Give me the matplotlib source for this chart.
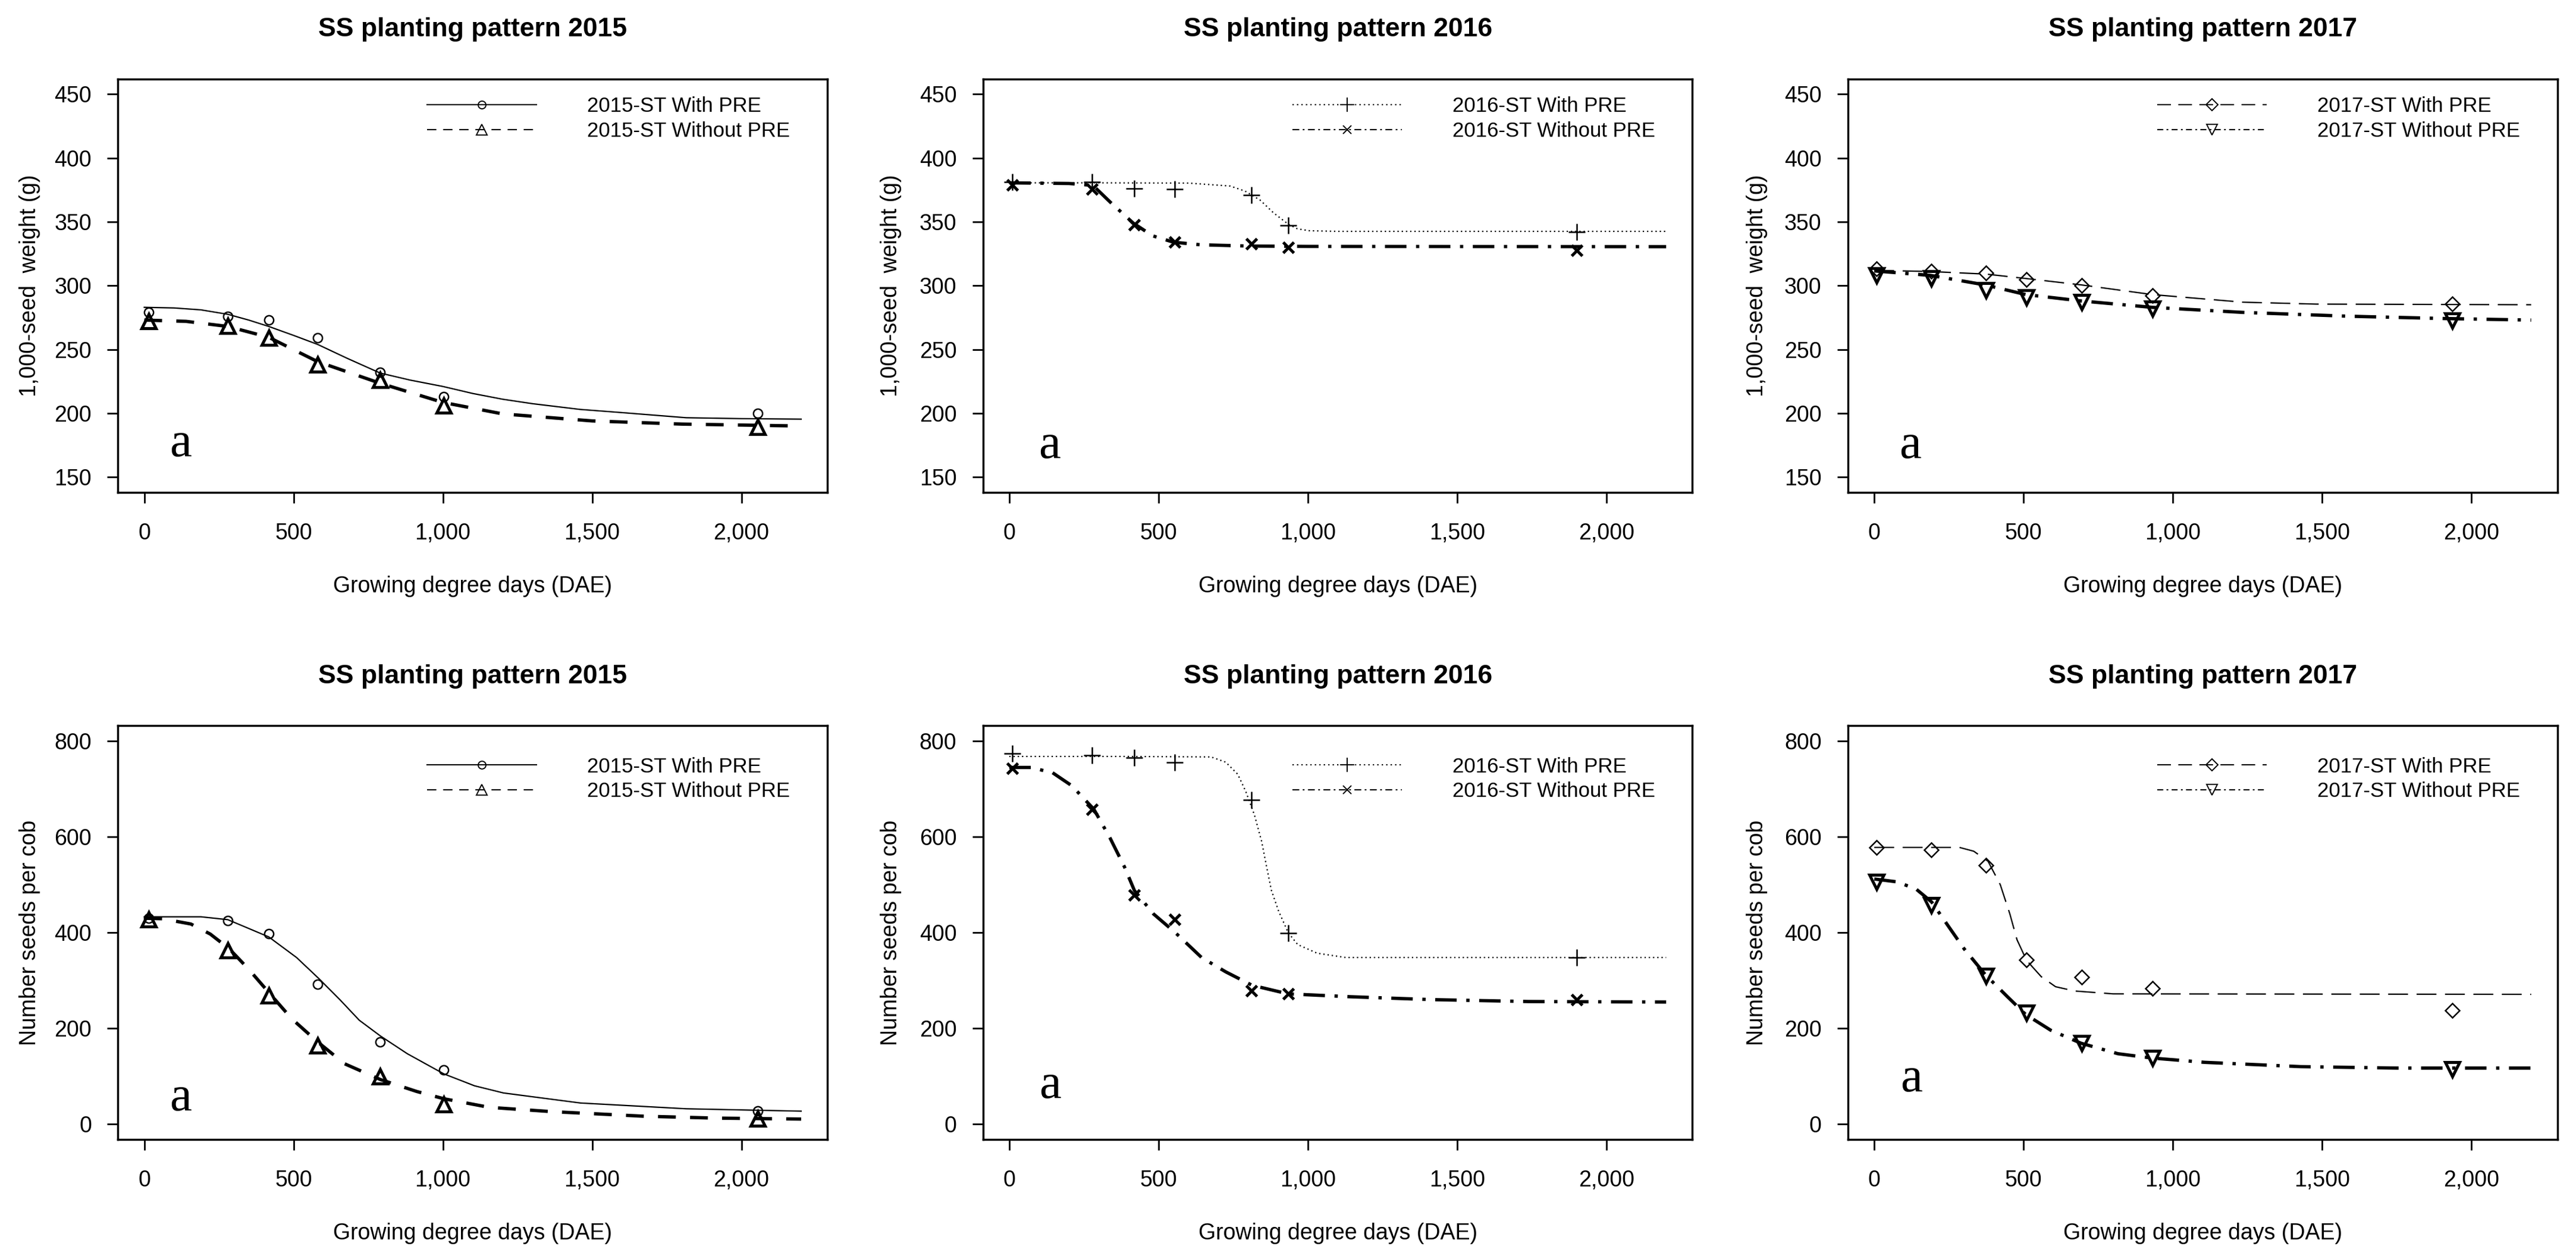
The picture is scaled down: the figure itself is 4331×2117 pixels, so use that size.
import matplotlib
matplotlib.use("Agg")
import matplotlib.pyplot as plt
from matplotlib.lines import Line2D

plt.rcParams["font.family"] = ["Liberation Sans", "DejaVu Sans"]

# ---- observed points (growing degree days) ----
gdd_2015 = [15, 280, 417, 580, 790, 1002, 2055]
gdd_2016 = [10, 278, 418, 555, 810, 935, 1900]
gdd_2017 = [8, 190, 375, 510, 695, 932, 1935]

# 1,000-seed weight (g)
wt_2015_with = [279, 276, 273, 259, 232, 213, 200]
wt_2015_without = [272, 268.5, 259, 238, 226, 206, 189]
wt_2016_with = [381, 381, 376, 375.5, 371, 347, 342]
wt_2016_without = [379, 375.5, 347.5, 334, 332.5, 330, 327.5]
wt_2017_with = [313, 311.5, 310, 305, 300, 292, 285.5]
wt_2017_without = [308, 305.5, 296.5, 291, 287, 282, 272.5]

# number of seeds per cob
sd_2015_with = [430, 425, 398, 292, 172, 113, 27]
sd_2015_without = [427, 363, 269, 164, 99, 41, 11]
sd_2016_with = [774, 770, 765, 756, 677, 399, 348]
sd_2016_without = [743, 658, 479, 427, 278, 272, 260]
sd_2017_with = [578, 573, 541, 343, 307, 283, 237]
sd_2017_without = [506, 457, 310, 232, 169, 138, 114]

# ---- fitted curves ----
cwt_2015_with_x = [0, 100, 190, 280, 350, 417, 500, 580, 680, 790, 890, 1000, 1100, 1200, 1300, 1460, 1600, 1815, 2000, 2200]
cwt_2015_with_y = [283, 282.5, 281, 277.5, 273, 268, 261, 254, 243, 231.5, 226, 221, 215.5, 211, 207.5, 203, 200.5, 196.5, 195.8, 195.4]
cwt_2015_without_x = [0, 140, 280, 417, 580, 790, 1000, 1200, 1500, 1800, 2200]
cwt_2015_without_y = [273, 272, 268, 259.5, 240.5, 223.5, 208.5, 199.5, 194, 191.5, 190]

cwt_2016_with_x = [0, 300, 600, 740, 790, 840, 885, 935, 965, 1005, 1100, 2200]
cwt_2016_with_y = [380.5, 380.5, 380.3, 378, 374, 367, 357, 348, 344.5, 343, 342.5, 342.5]
cwt_2016_without_x = [0, 200, 280, 340, 415, 480, 550, 640, 800, 1000, 2200]
cwt_2016_without_y = [380.5, 380, 378.5, 365, 349, 339, 334, 332, 331, 330.7, 330.5]

cwt_2017_with_x = [0, 190, 375, 510, 695, 930, 1235, 1480, 2200]
cwt_2017_with_y = [312, 311, 309, 305.5, 300.5, 293, 287, 285.5, 285]
cwt_2017_without_x = [0, 188, 372, 507, 692, 929, 1235, 1589, 1911, 2200]
cwt_2017_without_y = [311.5, 308, 300.5, 293, 288, 283, 279, 276, 274.2, 273]

csd_2015_with_x = [0, 190, 280, 417, 510, 583, 655, 720, 791, 881, 1003, 1106, 1203, 1461, 1638, 1815, 2200]
csd_2015_with_y = [433, 433, 427, 391, 348, 305, 260, 217, 184, 147, 105, 80, 65, 44, 38, 32, 27]
csd_2015_without_x = [0, 60, 156, 221, 285, 349, 417, 494, 580, 671, 791, 913, 1003, 1155, 1364, 1670, 1911, 2200]
csd_2015_without_y = [430, 429, 418, 397, 366, 324, 275, 220, 172, 126, 93, 68, 53, 35, 26, 16.5, 12.5, 10.5]

csd_2016_with_x = [0, 400, 676, 725, 765, 792, 821, 845, 862, 878, 902, 934, 966, 1031, 1127, 2200]
csd_2016_with_y = [768, 768, 767, 756, 731, 695, 646, 591, 537, 488, 445, 400, 375, 357, 348, 348]
csd_2016_without_x = [0, 72, 145, 209, 283, 338, 386, 419, 483, 556, 644, 725, 813, 934, 1143, 1417, 1739, 2200]
csd_2016_without_y = [745, 745, 734, 707, 658, 597, 537, 488, 439, 400, 348, 318, 290, 272, 266, 260, 256, 255]

csd_2017_with_x = [0, 285, 333, 381, 422, 454, 478, 510, 559, 607, 671, 800, 2200]
csd_2017_with_y = [578, 578, 570, 549, 500, 439, 385, 342, 308, 287, 278, 272, 271]
csd_2017_without_x = [0, 76, 140, 192, 253, 301, 372, 446, 507, 591, 692, 816, 929, 1106, 1428, 1750, 2200]
csd_2017_without_y = [512, 506, 491, 464, 409, 366, 312, 266, 229, 196, 169, 147, 138, 129, 120, 117, 117]

# ---- axes text ----
xtick_vals = [0, 500, 1000, 1500, 2000]
xtick_labels = ["0", "500", "1,000", "1,500", "2,000"]
wt_ticks = [150, 200, 250, 300, 350, 400, 450]
sd_ticks = [0, 200, 400, 600, 800]
years = ["2015", "2016", "2017"]

# line / marker styles per year
style = {
    "2015": dict(w_dash=None, w_mk="o", wo_dash=(5.4, 4.3), wo_mk="^",
                 lw_dash=None, lwo_dash=(7.5, 5.5)),
    "2016": dict(w_dash=(1.0, 2.2), w_mk="+", wo_dash=(6.5, 2.9, 1, 2.9), wo_mk="x",
                 lw_dash=(1.1, 2.5), lwo_dash=(5.5, 2.8, 1.4, 2.8)),
    "2017": dict(w_dash=(15, 6.5), w_mk="D", wo_dash=(6.5, 2.9, 1, 2.9), wo_mk="v",
                 lw_dash=(11, 6), lwo_dash=(4.8, 2.7, 1.4, 2.7)),
}
mk_size = {"o": 11, "^": 17, "+": 20, "x": 13, "D": 12, "v": 17}

fig = plt.figure(figsize=(43.31, 21.17), dpi=100)
lefts = [0.0458, 0.3816, 0.7174]
bottoms = [0.6089, 0.0950]
W, H = 0.2754, 0.3285
ylab_x = [-0.124, -0.130, -0.128]
a_pos = [[(0.088, 0.087), (0.094, 0.083), (0.088, 0.083)],
         [(0.088, 0.070), (0.095, 0.101), (0.089, 0.116)]]

gdd = {"2015": gdd_2015, "2016": gdd_2016, "2017": gdd_2017}
rows = [
    dict(ylabel="1,000-seed  weight (g)", ylim=(138, 462), yticks=wt_ticks, leg_y=0.957,
         pts={"2015": (wt_2015_with, wt_2015_without), "2016": (wt_2016_with, wt_2016_without),
              "2017": (wt_2017_with, wt_2017_without)},
         curves={"2015": (cwt_2015_with_x, cwt_2015_with_y, cwt_2015_without_x, cwt_2015_without_y),
                 "2016": (cwt_2016_with_x, cwt_2016_with_y, cwt_2016_without_x, cwt_2016_without_y),
                 "2017": (cwt_2017_with_x, cwt_2017_with_y, cwt_2017_without_x, cwt_2017_without_y)}),
    dict(ylabel="Number seeds per cob", ylim=(-32, 832), yticks=sd_ticks, leg_y=0.925,
         pts={"2015": (sd_2015_with, sd_2015_without), "2016": (sd_2016_with, sd_2016_without),
              "2017": (sd_2017_with, sd_2017_without)},
         curves={"2015": (csd_2015_with_x, csd_2015_with_y, csd_2015_without_x, csd_2015_without_y),
                 "2016": (csd_2016_with_x, csd_2016_with_y, csd_2016_without_x, csd_2016_without_y),
                 "2017": (csd_2017_with_x, csd_2017_with_y, csd_2017_without_x, csd_2017_without_y)}),
]

for r, row in enumerate(rows):
    for c, yr in enumerate(years):
        ax = fig.add_axes([lefts[c], bottoms[r], W, H])
        st = style[yr]
        cx1, cy1, cx2, cy2 = row["curves"][yr]
        y_with, y_without = row["pts"][yr]

        # fitted curves
        l1, = ax.plot(cx1, cy1, color="black", lw=1.6)
        if st["w_dash"] is not None:
            l1.set_dashes(st["w_dash"])
        ax.plot(cx2, cy2, color="black", lw=4, dashes=st["wo_dash"])

        # observed points
        ax.plot(gdd[yr], y_with, ls="none", marker=st["w_mk"], ms=mk_size[st["w_mk"]],
                mfc="none", mec="black", mew=1.8)
        ax.plot(gdd[yr], y_without, ls="none", marker=st["wo_mk"], ms=mk_size[st["wo_mk"]],
                mfc="none", mec="black", mew=3.6)

        ax.set_xlim(-88, 2288)
        ax.set_ylim(*row["ylim"])
        ax.set_xticks(xtick_vals)
        ax.set_xticklabels(xtick_labels)
        ax.set_yticks(row["yticks"])
        ax.tick_params(direction="out", length=13, width=2, labelsize=27, color="black")
        ax.tick_params(axis="x", pad=24)
        ax.tick_params(axis="y", pad=19)
        for sp in ax.spines.values():
            sp.set_linewidth(2.5)

        ax.text(0.5, 1 + 83 / 694, "SS planting pattern " + yr, transform=ax.transAxes,
                ha="center", va="center", fontsize=32, fontweight="bold")
        ax.set_xlabel("Growing degree days (DAE)", fontsize=27, va="center")
        ax.xaxis.set_label_coords(0.5, -0.2276)
        ax.set_ylabel(row["ylabel"], fontsize=27, va="center")
        ax.yaxis.set_label_coords(ylab_x[c], 0.5)

        ax.text(a_pos[r][c][0], a_pos[r][c][1], "a", transform=ax.transAxes,
                ha="center", va="baseline", fontsize=60, family="Liberation Serif")

        h1 = Line2D([], [], color="black", lw=1.5, marker=st["w_mk"],
                    ms=mk_size[st["w_mk"]] * 0.85, mfc="none", mew=1.4)
        if st["lw_dash"] is not None:
            h1.set_dashes(st["lw_dash"])
        h2 = Line2D([], [], color="black", lw=1.5, dashes=st["lwo_dash"], marker=st["wo_mk"],
                    ms=mk_size[st["wo_mk"]] * 0.8, mfc="none", mew=1.4)
        ax.legend([h1, h2], [yr + "-ST With PRE", yr + "-ST Without PRE"],
                  loc="upper left", bbox_to_anchor=(0.436, row["leg_y"]), frameon=False,
                  fontsize=25, handlelength=5.3, handletextpad=2.45, labelspacing=0.24,
                  borderpad=0, borderaxespad=0, numpoints=1)

fig.savefig("out.png", dpi=100)
plt.close(fig)
